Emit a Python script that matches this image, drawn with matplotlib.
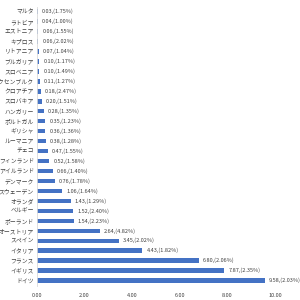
import matplotlib
matplotlib.use('Agg')
import matplotlib.pyplot as plt

plt.rcParams['font.family'] = ['Noto Sans CJK JP', 'DejaVu Sans']

countries = ['マルタ', 'ラトビア', 'エストニア', 'キプロス', 'リトアニア', 'ブルガリア',
             'スロベニア', 'ルクセンブルク', 'クロアチア', 'スロバキア', 'ハンガリー',
             'ポルトガル', 'ギリシャ', 'ルーマニア', 'チェコ', 'フィンランド',
             'アイルランド', 'デンマーク', 'スウェーデン', 'オランダ', 'ベルギー',
             'ポーランド', 'オーストリア', 'スペイン', 'イタリア', 'フランス',
             'イギリス', 'ドイツ']
values = [0.03, 0.04, 0.06, 0.06, 0.07, 0.10, 0.10, 0.11, 0.18, 0.20, 0.28,
          0.35, 0.36, 0.38, 0.47, 0.52, 0.66, 0.76, 1.06, 1.43, 1.52, 1.54,
          2.64, 3.45, 4.43, 6.80, 7.87, 9.58]
shares = [1.75, 1.00, 1.55, 2.02, 1.04, 1.17, 1.49, 1.27, 2.47, 1.51, 1.35,
          1.23, 1.36, 1.28, 1.55, 1.58, 1.40, 1.78, 1.64, 1.29, 2.40, 2.23,
          4.82, 2.02, 1.82, 2.06, 2.35, 2.03]
xticks = [0, 2, 4, 6, 8, 10]

fig = plt.figure(figsize=(3, 3), dpi=100)
ax = fig.add_axes([0.123, 0.048, 0.794, 0.93])

ypos = list(range(len(countries)))
ax.barh(ypos, values, height=0.45, color='#4472C4')
for y, v, s in zip(ypos, values, shares):
    ax.text(v + 0.17, y, '%.2f,(%.2f%%)' % (v, s), va='center', ha='left',
            fontsize=4.0, color='#404040')

ax.set_yticks(ypos)
ax.set_yticklabels(countries, fontsize=4.2, color='#404040')
ax.set_ylim(len(countries) - 0.5, -0.5)
ax.set_xlim(0, 10)
ax.set_xticks(xticks)
ax.set_xticklabels(['%.2f' % t for t in xticks], fontsize=4.0, color='#404040')
ax.tick_params(axis='both', length=0, pad=2)
ax.tick_params(axis='x', pad=5)
for side in ['top', 'right', 'bottom']:
    ax.spines[side].set_visible(False)
ax.spines['left'].set_color('#d9d9d9')
ax.spines['left'].set_linewidth(0.6)

fig.savefig('out.png', dpi=100)
